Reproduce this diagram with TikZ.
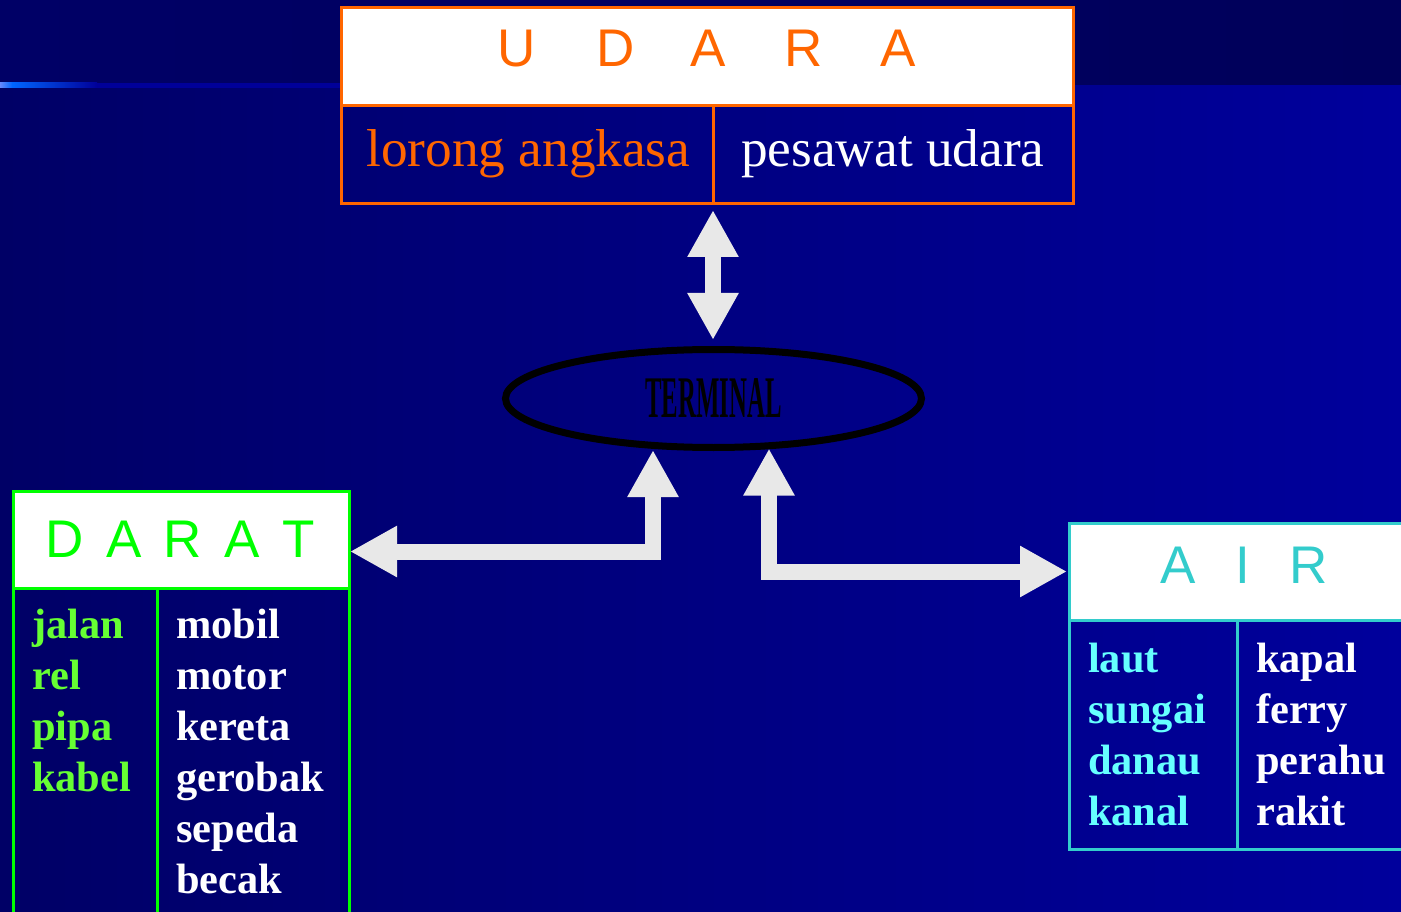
\documentclass[tikz,border=0pt]{standalone}
\usepackage{fontspec}
\usepackage{graphicx}
\setmainfont{Liberation Serif}
\newfontfamily\titlesans{Liberation Sans}
\usetikzlibrary{arrows.meta,shapes.geometric,calc}
\definecolor{bgdark}{HTML}{000066}
\definecolor{bgright}{HTML}{00009C}
\definecolor{bandright}{HTML}{00005A}
\definecolor{lineA}{HTML}{6688FF}
\definecolor{lineB}{HTML}{0066FF}
\definecolor{lineC}{HTML}{000099}
\definecolor{udorange}{HTML}{FF6600}
\definecolor{dgreen}{HTML}{00FF00}
\definecolor{dgtext}{HTML}{66FF33}
\definecolor{airteal}{HTML}{33CCCC}
\definecolor{aircyan}{HTML}{66FFFF}
\definecolor{arrowgray}{HTML}{E8E8E8}
\tikzset{
  box/.style={draw, line width=3pt, inner sep=0pt, outer sep=0pt, anchor=north west},
  titleletter/.style={anchor=base, inner sep=0pt, font=\titlesans\fontsize{53}{53}\selectfont},
  bodytext/.style={anchor=base west, inner sep=0pt, font=\fontsize{53.3}{53}\selectfont},
  listtext/.style={anchor=base west, inner sep=0pt, font=\bfseries\fontsize{42.4}{42}\selectfont},
  bigarrow/.style={draw=arrowgray, line width=16pt, line join=miter,
    arrows={Triangle[width=48pt,length=47pt]-Triangle[width=48pt,length=47pt]}},
}
\begin{document}
\begin{tikzpicture}[x=1pt,y=-1pt]
\useasboundingbox (0,0) rectangle (1401,912);
% background
\shade[left color=bgdark, right color=bgright] (0,0) rectangle (1401,912);
\shade[left color=bgdark, right color=bandright] (0,0) rectangle (1401,85);
\shade[left color=lineA, right color=lineB] (0,83) rectangle (12,88);
\shade[left color=lineB, right color=lineC] (12,83) rectangle (97,88);
\fill[lineC] (97,83) rectangle (341,88);

% UDARA box
\node[box, draw=udorange, fill=white, minimum width=732pt, minimum height=98pt] (udaraH) at (341,8) {};
\node[box, draw=udorange, minimum width=372pt, minimum height=98pt] (udaraL) at (341,106) {};
\node[box, draw=udorange, minimum width=360pt, minimum height=98pt] (udaraR) at (713,106) {};
\foreach \c/\x [count=\i] in {U/517,D/616,A/708,R/804,A/898}
  \node[titleletter, text=udorange] (ut\i) at (\x,67) {\c};
\node[bodytext, text=udorange] (lorong) at (366,167) {lorong angkasa};
\node[bodytext, text=white] (pesawat) at (741,167) {pesawat udara};

% DARAT box
\node[box, draw=dgreen, fill=white, minimum width=336pt, minimum height=97pt] (daratH) at (13,491) {};
\node[box, draw=dgreen, minimum width=144pt, minimum height=340pt] (daratL) at (13,588) {};
\node[box, draw=dgreen, minimum width=192pt, minimum height=340pt] (daratR) at (157,588) {};
\foreach \c/\x [count=\i] in {D/65,A/124,R/183,A/242,T/299}
  \node[titleletter, text=dgreen] (dt\i) at (\x,557) {\c};
\foreach \w [count=\i] in {jalan,rel,pipa,kabel}
  \node[listtext, text=dgtext] (dl\i) at (32,{638+51*(\i-1)}) {\w};
\foreach \w [count=\i] in {mobil,motor,kereta,gerobak,sepeda,becak}
  \node[listtext, text=white] (dr\i) at (176,{638+51*(\i-1)}) {\w};

% AIR box
\node[box, draw=airteal, fill=white, minimum width=360pt, minimum height=97pt] (airH) at (1069,523) {};
\node[box, draw=airteal, minimum width=168pt, minimum height=229pt] (airL) at (1069,620) {};
\node[box, draw=airteal, minimum width=200pt, minimum height=229pt] (airR) at (1237,620) {};
\foreach \c/\x [count=\i] in {A/1178,I/1243,R/1309}
  \node[titleletter, text=airteal] (at\i) at (\x,583) {\c};
\foreach \w [count=\i] in {laut,sungai,danau,kanal}
  \node[listtext, text=aircyan] (al\i) at (1088,{672+51*(\i-1)}) {\w};
\foreach \w [count=\i] in {kapal,ferry,perahu,rakit}
  \node[listtext, text=white] (ar\i) at (1256,{672+51*(\i-1)}) {\w};

% TERMINAL
\node[ellipse, draw=black, line width=7pt, minimum width=416pt, minimum height=98pt, inner sep=0pt, outer sep=0pt] (term) at (713.5,398.5)
  {\raisebox{-7pt}{\scalebox{0.42}[1]{\bfseries\fontsize{59}{59}\selectfont TERMINAL}}};

% arrows
\draw[bigarrow, shorten <=6pt, shorten >=9.5pt] (udaraL.south east) -- (udaraL.south east |- term.north);
\draw[bigarrow, shorten <=1pt, shorten >=2.5pt] ([yshift=-12pt]daratH.east) -| ([xshift=-60.5pt]term.south);
\draw[bigarrow, shorten <=1pt, shorten >=2pt] ([xshift=55.5pt]term.south) |- (airH.west);
\end{tikzpicture}
\end{document}
